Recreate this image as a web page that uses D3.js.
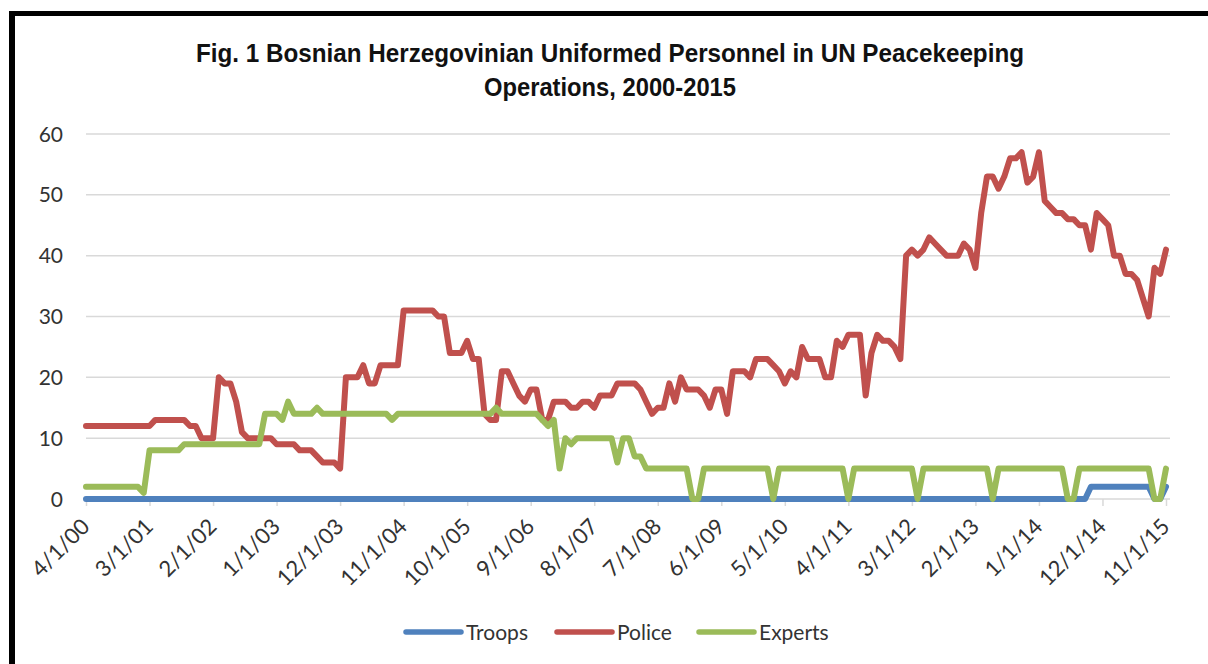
<!DOCTYPE html>
<html>
<head>
<meta charset="utf-8">
<script src="https://cdn.jsdelivr.net/npm/d3@7"></script>
<style>
  html, body { margin: 0; padding: 0; background: #fff; }
  svg { display: block; }
  .tick-lbl { font-family: Lato, "Open Sans", sans-serif; font-size: 21px; fill: #333; }
  .x-lbl { font-size: 22px; }
  .title { font-family: "Liberation Sans", Arial, sans-serif; font-weight: bold; font-size: 26px; fill: #111; }
</style>
</head>
<body>
<svg id="chart"></svg>
<script>
// ── data (monthly, Apr 2000 … Nov 2015) ──
const START = new Date(2000, 3, 1);
const END   = new Date(2015, 11, 1);   // exclusive
const months = d3.timeMonth.range(START, END);

const troops = [
  0,0,0,0,0,0,0,0,0,0,0,0,
  0,0,0,0,0,0,0,0,0,0,0,0,
  0,0,0,0,0,0,0,0,0,0,0,0,
  0,0,0,0,0,0,0,0,0,0,0,0,
  0,0,0,0,0,0,0,0,0,0,0,0,
  0,0,0,0,0,0,0,0,0,0,0,0,
  0,0,0,0,0,0,0,0,0,0,0,0,
  0,0,0,0,0,0,0,0,0,0,0,0,
  0,0,0,0,0,0,0,0,0,0,0,0,
  0,0,0,0,0,0,0,0,0,0,0,0,
  0,0,0,0,0,0,0,0,0,0,0,0,
  0,0,0,0,0,0,0,0,0,0,0,0,
  0,0,0,0,0,0,0,0,0,0,0,0,
  0,0,0,0,0,0,0,0,0,0,0,0,
  0,0,0,0,0,0,2,2,2,2,2,2,
  2,2,2,2,2,0,0,2
];

const police = [
  12,12,12,12,12,12,12,12,12,12,12,12,
  13,13,13,13,13,13,12,12,10,10,10,20,
  19,19,16,11,10,10,10,10,10,9,9,9,
  9,8,8,8,7,6,6,6,5,20,20,20,
  22,19,19,22,22,22,22,31,31,31,31,31,
  31,30,30,24,24,24,26,23,23,14,13,13,
  21,21,19,17,16,18,18,13,13,16,16,16,
  15,15,16,16,15,17,17,17,19,19,19,19,
  18,16,14,15,15,19,16,20,18,18,18,17,
  15,18,18,14,21,21,21,20,23,23,23,22,
  21,19,21,20,25,23,23,23,20,20,26,25,
  27,27,27,17,24,27,26,26,25,23,40,41,
  40,41,43,42,41,40,40,40,42,41,38,47,
  53,53,51,53,56,56,57,52,53,57,49,48,
  47,47,46,46,45,45,41,47,46,45,40,40,
  37,37,36,33,30,38,37,41
];

const experts = [
  2,2,2,2,2,2,2,2,2,2,1,8,
  8,8,8,8,8,9,9,9,9,9,9,9,
  9,9,9,9,9,9,9,14,14,14,13,16,
  14,14,14,14,15,14,14,14,14,14,14,14,
  14,14,14,14,14,13,14,14,14,14,14,14,
  14,14,14,14,14,14,14,14,14,14,14,15,
  14,14,14,14,14,14,14,13,12,13,5,10,
  9,10,10,10,10,10,10,10,6,10,10,7,
  7,5,5,5,5,5,5,5,5,0,0,5,
  5,5,5,5,5,5,5,5,5,5,5,0,
  5,5,5,5,5,5,5,5,5,5,5,5,
  0,5,5,5,5,5,5,5,5,5,5,5,
  0,5,5,5,5,5,5,5,5,5,5,5,
  5,0,5,5,5,5,5,5,5,5,5,5,
  5,5,0,0,5,5,5,5,5,5,5,5,
  5,5,5,5,5,0,0,5
];

const seriesNames = ['Troops', 'Police', 'Experts'];
const seriesData  = [troops, police, experts];
const seriesColors = ['#4F81BD', '#C0504D', '#9BBB59'];
const yTicks = [0, 10, 20, 30, 40, 50, 60];
const titleLines = ['Fig. 1 Bosnian Herzegovinian Uniformed Personnel in UN Peacekeeping',
                    'Operations, 2000-2015'];

// ── layout ──
const W = 1208, H = 664;
const svg = d3.select('#chart').attr('width', W).attr('height', H);

const x = d3.scalePoint().domain(months).range([86, 1166]);
const y = d3.scaleLinear().domain([0, 60]).range([499, 134]);
const gridRight = 1170;
const fmt = d3.timeFormat('%-m/%-d/%y');
const xTickVals = months.filter((d, i) => i % 11 === 0);

// frame
svg.append('rect').attr('x', 9).attr('y', 11).attr('width', 1199).attr('height', 5).attr('fill', '#000');
svg.append('rect').attr('x', 9).attr('y', 11).attr('width', 6).attr('height', H).attr('fill', '#000');

// title
svg.selectAll('.title').data(titleLines).enter().append('text')
  .attr('class', 'title')
  .attr('x', 610).attr('y', (d, i) => 62 + i * 34)
  .attr('text-anchor', 'middle')
  .attr('textLength', (d, i) => i === 0 ? 828 : 252)
  .attr('lengthAdjust', 'spacingAndGlyphs')
  .text(d => d);

// gridlines + y labels
svg.append('g').selectAll('line').data(yTicks.filter(v => v > 0)).enter().append('line')
  .attr('x1', x.range()[0]).attr('x2', gridRight)
  .attr('y1', d => y(d)).attr('y2', d => y(d))
  .attr('stroke', '#d9d9d9').attr('stroke-width', 1.5);

svg.append('g').selectAll('text').data(yTicks).enter().append('text')
  .attr('class', 'tick-lbl')
  .attr('x', 63).attr('y', d => y(d)).attr('dy', '0.36em')
  .attr('text-anchor', 'end')
  .text(d => d);

// x axis
const xAxis = svg.append('g').attr('transform', `translate(0,${y(0)})`)
  .call(d3.axisBottom(x).tickValues(xTickVals).tickSize(7).tickFormat(''));
xAxis.select('.domain').attr('d', `M${x.range()[0]},0H${gridRight}`).attr('stroke', '#d9d9d9').attr('stroke-width', 1.5);
xAxis.selectAll('.tick line').attr('stroke', '#d9d9d9').attr('stroke-width', 1.5);

svg.append('g').selectAll('text').data(xTickVals).enter().append('text')
  .attr('class', 'tick-lbl x-lbl')
  .attr('text-anchor', 'end')
  .attr('transform', d => `translate(${x(d) + 5},${528}) rotate(-45)`)
  .text(d => fmt(d));

// lines
const line = d3.line().x((d, i) => x(months[i])).y(d => y(d));
svg.append('g').selectAll('path').data(seriesData).enter().append('path')
  .attr('d', d => line(d))
  .attr('fill', 'none')
  .attr('stroke', (d, i) => seriesColors[i])
  .attr('stroke-width', 6)
  .attr('stroke-linejoin', 'round')
  .attr('stroke-linecap', 'round');

// legend
const legX = [406, 557, 699];
const leg = svg.append('g').selectAll('g').data(seriesNames).enter().append('g')
  .attr('transform', (d, i) => `translate(${legX[i]},632)`);
leg.append('line').attr('x1', 0).attr('x2', 55).attr('y1', 0).attr('y2', 0)
  .attr('stroke', (d, i) => seriesColors[i]).attr('stroke-width', 5.5).attr('stroke-linecap', 'round');
leg.append('text').attr('class', 'tick-lbl').attr('x', 60).attr('y', 0).attr('dy', '0.36em').text(d => d);
</script>
</body>
</html>
